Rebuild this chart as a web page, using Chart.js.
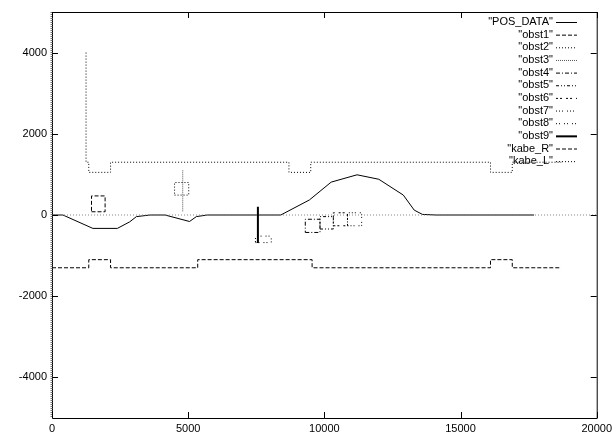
<!DOCTYPE html>
<html>
<head>
<meta charset="utf-8">
<script src="https://cdn.jsdelivr.net/npm/chart.js@4.4.1/dist/chart.umd.min.js"></script>
<style>
  html, body { margin: 0; padding: 0; background: #fff; }
  #wrap { width: 616px; height: 436px; }
</style>
</head>
<body>
<div id="wrap"><canvas id="chart" width="616" height="436"></canvas></div>
<script>
// tick labels
const xTicks = [0, 5000, 10000, 15000, 20000];
const yTicks = [-4000, -2000, 0, 2000, 4000];

// vehicle path
const posX = [0, 400, 1500, 2400, 2850, 3100, 3600, 4150, 5050, 5300, 5700, 8400, 9450, 10250, 11200, 12000, 12900, 13300, 13600, 14100, 17700];
const posY = [0, 0, -330, -330, -170, -40, 0, 0, -160, -40, 0, 0, 370, 810, 990, 880, 490, 120, 15, 0, 0];

// obstacles
const obst1X = [1450, 1950, 1950, 1450, 1450];
const obst1Y = [80, 80, 470, 470, 80];
const obst2X = [4500, 5020, 5020, 4500, 4500];
const obst2Y = [490, 490, 800, 800, 490];
const obst3X = [4800, 4800];
const obst3Y = [1100, 80];
const obst4X = [9300, 9840, 9840, 9300, 9300];
const obst4Y = [-430, -430, -105, -105, -430];
const obst5X = [9840, 10330, 10330, 9840, 9840];
const obst5Y = [-345, -345, -40, -40, -345];
const obst6X = [10330, 10850, 10850, 10330, 10330];
const obst6Y = [-265, -265, 55, 55, -265];
const obst7X = [10850, 11370, 11370, 10850, 10850];
const obst7Y = [-265, -265, 55, 55, -265];
const obst8X = [7470, 8050, 8050, 7470, 7470];
const obst8Y = [-680, -680, -520, -520, -680];
const obst9X = [7560, 7560];
const obst9Y = [205, -690];

// walls
const kabeRX = [0, 1350, 1350, 2150, 2150, 5350, 5350, 9550, 9550, 16100, 16100, 16900, 16900, 18700];
const kabeRY = [-1300, -1300, -1100, -1100, -1300, -1300, -1100, -1100, -1300, -1300, -1100, -1100, -1300, -1300];
const kabeLX = [1250, 1250, 1350, 1350, 2150, 2150, 8700, 8700, 9500, 9500, 16100, 16100, 16900, 16900, 18700];
const kabeLY = [4000, 1300, 1300, 1050, 1050, 1300, 1300, 1050, 1050, 1300, 1300, 1050, 1050, 1300, 1300];

// zero axis
const zeroX = [0, 20000];
const zeroY = [0, 0];

const FONT = '"Liberation Sans", Arial, sans-serif';

function pts(xs, ys) {
    return xs.map((x, i) => ({ x: x, y: ys[i] }));
}

function series(label, xs, ys, dash, width, color) {
    return {
        label: label,
        data: pts(xs, ys),
        borderColor: color || "#000",
        borderWidth: width || 1,
        borderDash: dash,
        pointRadius: 0,
        fill: false,
        tension: 0
    };
}

const datasets = [
    series("", zeroX, zeroY, [1, 2], 1, "#888"),
    series("POS_DATA", posX, posY, [], 1),
    series("obst1", obst1X, obst1Y, [4, 2], 1),
    series("obst2", obst2X, obst2Y, [1, 2], 1),
    series("obst3", obst3X, obst3Y, [1, 1], 1, "#555"),
    series("obst4", obst4X, obst4Y, [4, 2, 1, 2], 1),
    series("obst5", obst5X, obst5Y, [3, 2, 1, 2, 1, 2], 1),
    series("obst6", obst6X, obst6Y, [2, 2, 2, 4], 1),
    series("obst7", obst7X, obst7Y, [1, 2, 1, 2, 1, 4], 1),
    series("obst8", obst8X, obst8Y, [1, 2, 1, 4], 1),
    series("obst9", obst9X, obst9Y, [], 2),
    series("kabe_R", kabeRX, kabeRY, [4, 2], 1),
    series("kabe_L", kabeLX, kabeLY, [1, 2], 1)
];

// gnuplot style key: right-aligned text with the sample line after it
const keyPlugin = {
    id: "gpKey",
    afterDraw(chart) {
        const ctx = chart.ctx;
        ctx.save();
        ctx.font = "11px " + FONT;
        ctx.textAlign = "right";
        ctx.textBaseline = "middle";
        let row = 0;
        chart.data.datasets.forEach(ds => {
            if (!ds.label) return;
            const y = 22 + row * 12.65;
            ctx.fillStyle = "#000";
            ctx.fillText('"' + ds.label + '"', 553, y);
            ctx.strokeStyle = ds.borderColor;
            ctx.lineWidth = ds.borderWidth;
            ctx.setLineDash(ds.borderDash);
            ctx.beginPath();
            ctx.moveTo(556, y + 0.5);
            ctx.lineTo(577, y + 0.5);
            ctx.stroke();
            row++;
        });
        ctx.restore();
    }
};

// frame and inward mirrored ticks
const frameTicks = {
    id: "gpFrame",
    afterDraw(chart) {
        const ctx = chart.ctx;
        const a = chart.chartArea;
        const sx = chart.scales.x, sy = chart.scales.y;
        ctx.save();
        ctx.setLineDash([]);
        ctx.strokeStyle = "#000";
        ctx.lineWidth = 1;
        ctx.beginPath();
        ctx.rect(a.left + 0.5, a.top + 0.5, a.right - a.left, a.bottom - a.top);
        ctx.stroke();
        // grey textured left axis
        ctx.strokeStyle = "#777";
        ctx.lineWidth = 2;
        ctx.setLineDash([1, 1]);
        ctx.beginPath();
        ctx.moveTo(a.left - 0.5, a.top);
        ctx.lineTo(a.left - 0.5, a.bottom);
        ctx.stroke();
        ctx.setLineDash([]);
        ctx.strokeStyle = "#000";
        ctx.lineWidth = 1;
        ctx.beginPath();
        sx.ticks.forEach(t => {
            const px = Math.round(sx.getPixelForValue(t.value)) + 0.5;
            ctx.moveTo(px, a.bottom);
            ctx.lineTo(px, a.bottom - 6);
            ctx.moveTo(px, a.top);
            ctx.lineTo(px, a.top + 6);
        });
        sy.ticks.forEach(t => {
            const py = Math.round(sy.getPixelForValue(t.value)) + 0.5;
            ctx.moveTo(a.left, py);
            ctx.lineTo(a.left + 6, py);
            ctx.moveTo(a.right, py);
            ctx.lineTo(a.right - 6, py);
        });
        ctx.stroke();
        ctx.restore();
    }
};

new Chart(document.getElementById("chart").getContext("2d"), {
    type: "line",
    data: { datasets: datasets },
    options: {
        responsive: false,
        animation: false,
        layout: { padding: { top: 12, right: 18, left: 0, bottom: 0 } },
        plugins: {
            legend: { display: false },
            tooltip: { enabled: false }
        },
        scales: {
            x: {
                type: "linear",
                min: 0,
                max: 20000,
                afterBuildTicks: s => { s.ticks = xTicks.map(v => ({ value: v })); },
                afterFit: s => { s.height = 18; },
                grid: { display: false, drawTicks: false },
                border: { display: false },
                ticks: {
                    color: "#000",
                    font: { family: FONT, size: 11 },
                    padding: 4,
                    maxRotation: 0,
                    callback: v => String(v)
                }
            },
            y: {
                type: "linear",
                min: -5000,
                max: 5000,
                afterBuildTicks: s => { s.ticks = yTicks.map(v => ({ value: v })); },
                afterFit: s => { s.width = 52; },
                grid: { display: false, drawTicks: false },
                border: { display: false },
                ticks: {
                    color: "#000",
                    font: { family: FONT, size: 11 },
                    padding: 5,
                    callback: v => String(v)
                }
            }
        }
    },
    plugins: [keyPlugin, frameTicks]
});
</script>
</body>
</html>
